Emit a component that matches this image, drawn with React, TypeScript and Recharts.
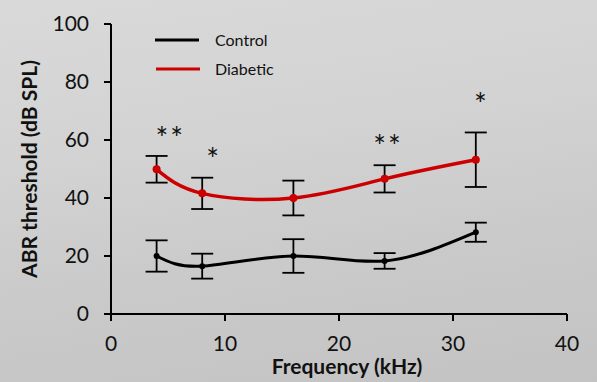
import React from 'react';
import { LineChart, Line, XAxis, YAxis, ErrorBar, ReferenceDot, Label } from 'recharts';

const frequencies = [4, 8, 16, 24, 32];
const controlMean = [20, 16.5, 20, 18.3, 28.2];
const controlSem = [5.4, 4.3, 5.8, 2.7, 3.3];
const diabeticMean = [49.9, 41.6, 40, 46.6, 53.2];
const diabeticSem = [4.6, 5.4, 6, 4.7, 9.4];
const xTicks = [0, 10, 20, 30, 40];
const yTicks = [0, 20, 40, 60, 80, 100];
const sigX = [5.2, 9.0, 24.3, 32.5];
const sigY = [63, 56, 60.5, 75];
const sigText = ['**', '*', '**', '*'];
const seriesNames = ['Control', 'Diabetic'];

const data = frequencies.map((f, i) => ({
  freq: f,
  control: controlMean[i],
  controlErr: controlSem[i],
  diabetic: diabeticMean[i],
  diabeticErr: diabeticSem[i],
}));

const RED = '#cc0000';
const FONT = 'Lato, "Open Sans", sans-serif';

const LegendBox = () => (
  <svg
    width={220}
    height={60}
    style={{ position: 'absolute', left: 155, top: 26, overflow: 'visible' }}
  >
    <line x1={0} x2={44} y1={14} y2={14} stroke="#000" strokeWidth={3} />
    <text x={60} y={20} fontSize={16} fontFamily={FONT} fill="#111">{seriesNames[0]}</text>
    <line x1={1} x2={45} y1={43} y2={43} stroke={RED} strokeWidth={3} />
    <text x={60} y={49} fontSize={16} fontFamily={FONT} fill="#111">{seriesNames[1]}</text>
  </svg>
);

export default function App() {
  return (
    <div
      style={{
        position: 'absolute',
        left: 0,
        top: 0,
        width: 597,
        height: 382,
        background:
          'linear-gradient(172deg, #d9d9d9 0%, #d3d3d3 35%, #cacaca 65%, #c3c3c3 100%)',
        overflow: 'hidden',
      }}
    >
      <LineChart
        width={597}
        height={382}
        data={data}
        margin={{ top: 24, right: 30, bottom: 38, left: 51 }}
        style={{ fontFamily: FONT }}
      >
        <XAxis
          type="number"
          dataKey="freq"
          domain={[0, 40]}
          ticks={xTicks}
          height={30}
          tickSize={7}
          tickMargin={15}
          axisLine={{ stroke: '#000', strokeWidth: 2 }}
          tickLine={{ stroke: '#000', strokeWidth: 2 }}
          tick={{ fill: '#111', fontSize: 21, fontFamily: FONT }}
        >
          <Label
            value="Frequency (kHz)"
            position="bottom"
            offset={15}
            dx={8}
            style={{ fill: '#111', fontSize: 21, fontWeight: 700, fontFamily: FONT }}
          />
        </XAxis>
        <YAxis
          type="number"
          domain={[0, 100]}
          ticks={yTicks}
          width={60}
          tickSize={7}
          tickMargin={15}
          axisLine={{ stroke: '#000', strokeWidth: 2 }}
          tickLine={{ stroke: '#000', strokeWidth: 2 }}
          tick={{ fill: '#111', fontSize: 21, fontFamily: FONT }}
        >
          <Label
            value="ABR threshold (dB SPL)"
            angle={-90}
            position="insideLeft"
            offset={-21}
            style={{ textAnchor: 'middle', fill: '#111', fontSize: 21, fontWeight: 700, fontFamily: FONT }}
          />
        </YAxis>
        <Line
          type="natural"
          dataKey="control"
          stroke="#000"
          strokeWidth={3}
          dot={{ r: 3, fill: '#000', stroke: 'none' }}
          isAnimationActive={false}
        >
          <ErrorBar dataKey="controlErr" width={11} stroke="#000" strokeWidth={1.8} direction="y" />
        </Line>
        <Line
          type="natural"
          dataKey="diabetic"
          stroke={RED}
          strokeWidth={3.5}
          dot={{ r: 4, fill: RED, stroke: 'none' }}
          isAnimationActive={false}
        >
          <ErrorBar dataKey="diabeticErr" width={11} stroke="#000" strokeWidth={1.8} direction="y" />
        </Line>
        {sigX.map((x, i) => (
          <ReferenceDot
            key={i}
            x={x}
            y={sigY[i]}
            r={0}
            ifOverflow="visible"
            shape={(p: any) => (
              <text
                x={p.cx}
                y={p.cy + 18}
                textAnchor="middle"
                fontSize={30}
                fontFamily={FONT}
                letterSpacing={2}
                fill="#111"
              >
                {sigText[i]}
              </text>
            )}
          />
        ))}
      </LineChart>
      <LegendBox />
    </div>
  );
}
